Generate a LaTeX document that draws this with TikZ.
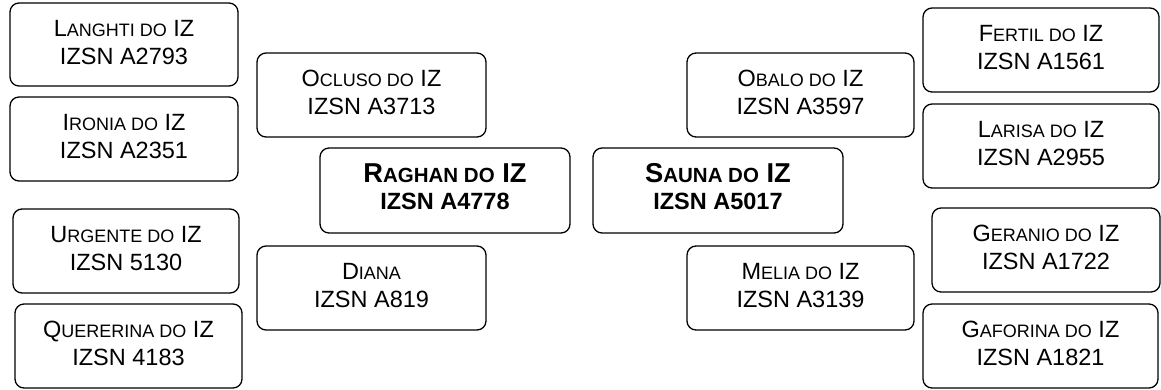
\documentclass[tikz,border=0pt]{standalone}
\usepackage{fontspec}
\setmainfont{Liberation Sans}
\newcommand\smc[1]{{\fontsize{18pt}{18pt}\selectfont #1}}
\newcommand\smcb[1]{{\fontsize{20.5pt}{20.5pt}\selectfont #1}}
\newcommand\twolines[2]{\raisebox{3pt}{\begin{tabular}{@{}c@{}}#1\\#2\end{tabular}}}
\newcommand\twolinesb[2]{\raisebox{3pt}{\begin{tabular}{@{}c@{}}{\fontsize{27.3pt}{28pt}\selectfont #1}\\#2\end{tabular}}}
\tikzset{
  pbox/.style={draw=black, line width=1.3pt, rounded corners=9pt,
    inner sep=0pt, minimum height=84pt,
    font=\fontsize{23.5pt}{28pt}\selectfont},
  mainbox/.style={pbox, font=\fontsize{23.5pt}{27.5pt}\selectfont\bfseries, minimum height=85pt, minimum width=250pt}
}
\begin{document}
\begin{tikzpicture}[x=1pt,y=-1pt]
\useasboundingbox (0,0) rectangle (1161,389);
% grandparents left
\node[pbox, minimum width=228pt, minimum height=83pt] (langhti) at (124,44.5) {\twolines{L\smc{ANGHTI DO} IZ}{IZSN A2793}};
\node[pbox, minimum width=228pt] (ironia) at (124,139) {\twolines{I\smc{RONIA DO} IZ}{IZSN A2351}};
\node[pbox, minimum width=226pt] (urgente) at (126,251) {\twolines{U\smc{RGENTE DO} IZ}{IZSN 5130}};
\node[pbox, minimum width=227pt] (quererina) at (128.5,346) {\twolines{Q\smc{UERERINA DO} IZ}{IZSN 4183}};
% parents left
\node[pbox, minimum width=229pt] (ocluso) at (371.5,95) {\twolines{O\smc{CLUSO DO} IZ}{IZSN A3713}};
\node[pbox, minimum width=229pt] (diana) at (371.5,288) {\twolines{D\smc{IANA}}{IZSN A819}};
% main
\node[mainbox] (raghan) at (445,190.5) {\twolinesb{R\smcb{AGHAN DO} IZ}{IZSN A4778}};
\node[mainbox] (sauna) at (718,190.5) {\twolinesb{S\smcb{AUNA DO} IZ}{IZSN A5017}};
% parents right
\node[pbox, minimum width=227pt] (obalo) at (800.5,95) {\twolines{O\smc{BALO DO} IZ}{IZSN A3597}};
\node[pbox, minimum width=227pt] (melia) at (800.5,288) {\twolines{M\smc{ELIA DO} IZ}{IZSN A3139}};
% grandparents right
\node[pbox, minimum width=236pt] (fertil) at (1041,50) {\twolines{F\smc{ERTIL DO} IZ}{IZSN A1561}};
\node[pbox, minimum width=236pt] (larisa) at (1041,146) {\twolines{L\smc{ARISA DO} IZ}{IZSN A2955}};
\node[pbox, minimum width=228pt] (geranio) at (1046,250) {\twolines{G\smc{ERANIO DO} IZ}{IZSN A1722}};
\node[pbox, minimum width=235pt] (gaforina) at (1040.5,346) {\twolines{G\smc{AFORINA DO} IZ}{IZSN A1821}};
\end{tikzpicture}
\end{document}
